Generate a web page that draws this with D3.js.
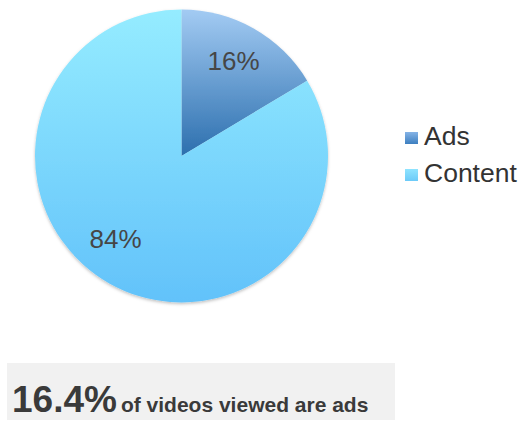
<!DOCTYPE html>
<html>
<head>
<meta charset="utf-8">
<script src="https://cdn.jsdelivr.net/npm/d3@7"></script>
<style>
  html, body { margin: 0; padding: 0; background: #fff; }
  svg { display: block; font-family: Arial, "Liberation Sans", sans-serif; }
</style>
</head>
<body>
<svg id="chart" width="525" height="423"></svg>
<script>
// Share of videos viewed: ads vs. content
const categories = ["Ads", "Content"];
const values = [16.4, 83.6];
const sliceLabels = ["16%", "84%"];
const headlineValue = "16.4%";
const headlineText = "of videos viewed are ads";

const svg = d3.select("#chart");
const cx = 181.5, cy = 156, r = 146.5;

const defs = svg.append("defs");
const gradStops = {
  Ads: ["#a3cbf3", "#2c6fae"],
  Content: ["#95ecff", "#62c2fa"]
};
// vertical gradients in the pie's local coordinates (origin at the centre)
categories.forEach(c => {
  const g = defs.append("linearGradient")
    .attr("id", "grad-" + c)
    .attr("gradientUnits", "userSpaceOnUse")
    .attr("x1", 0).attr("x2", 0)
    .attr("y1", -r)
    .attr("y2", c === "Ads" ? 0 : r);
  g.append("stop").attr("offset", "0%").attr("stop-color", gradStops[c][0]);
  g.append("stop").attr("offset", "100%").attr("stop-color", gradStops[c][1]);
});
const legendGrad = {
  Ads: ["#85b3e6", "#3d7fc0"],
  Content: ["#8fe4ff", "#6ccaf8"]
};
categories.forEach(c => {
  const g = defs.append("linearGradient")
    .attr("id", "lg-" + c)
    .attr("x1", 0).attr("x2", 0).attr("y1", 0).attr("y2", 1);
  g.append("stop").attr("offset", "0%").attr("stop-color", legendGrad[c][0]);
  g.append("stop").attr("offset", "100%").attr("stop-color", legendGrad[c][1]);
});

const shadow = defs.append("filter").attr("id", "shadow")
  .attr("x", "-10%").attr("y", "-10%").attr("width", "120%").attr("height", "120%");
shadow.append("feDropShadow").attr("dx", 0).attr("dy", 1.5)
  .attr("stdDeviation", 1.5).attr("flood-color", "#000").attr("flood-opacity", 0.25);

const pie = d3.pie().sort(null).value(d => d.v);
const data = pie(categories.map((c, i) => ({ c, v: values[i], label: sliceLabels[i] })));
const arc = d3.arc().innerRadius(0).outerRadius(r);

const pieG = svg.append("g").attr("transform", `translate(${cx},${cy})`);
pieG.append("g").attr("filter", "url(#shadow)")
  .selectAll("path").data(data).join("path")
  .attr("fill", d => `url(#grad-${d.data.c})`)
  .attr("d", arc);

// slice labels
const labelPos = [[52, -86], [-66, 92]];
pieG.selectAll("text").data(data).join("text")
  .attr("x", (d, i) => labelPos[i][0])
  .attr("y", (d, i) => labelPos[i][1])
  .attr("text-anchor", "middle")
  .attr("font-size", 26)
  .attr("fill", "#464646")
  .text(d => d.data.label);

// legend
const legend = svg.append("g").attr("transform", "translate(405,132)");
const item = legend.selectAll("g").data(categories).join("g")
  .attr("transform", (d, i) => `translate(0,${i * 37})`);
item.append("rect").attr("width", 13).attr("height", 12)
  .attr("fill", d => `url(#lg-${d})`);
item.append("text").attr("x", 19).attr("y", 13)
  .attr("font-size", 26.5).attr("fill", "#333")
  .text(d => d);

// headline band
svg.append("rect").attr("x", 7).attr("y", 363).attr("width", 388).attr("height", 57)
  .attr("fill", "#f1f1f1");
const t = svg.append("text").attr("x", 12).attr("y", 412)
  .attr("font-weight", "bold").attr("fill", "#3a3a3a");
t.append("tspan").attr("font-size", 37).text(headlineValue);
t.append("tspan").attr("font-size", 21).attr("dx", 4).text(headlineText);
</script>
</body>
</html>
